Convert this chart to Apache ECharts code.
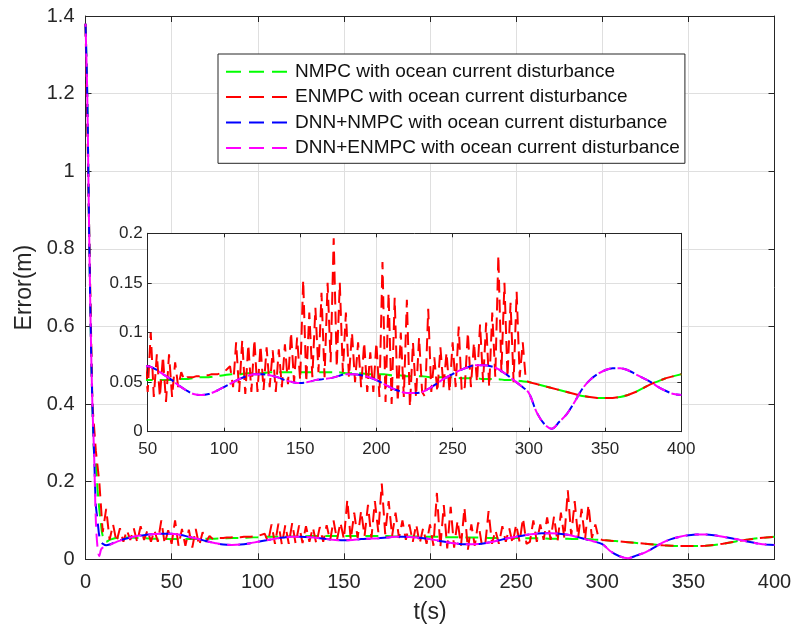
<!DOCTYPE html>
<html><head><meta charset="utf-8">
<script src="https://cdn.jsdelivr.net/npm/echarts@6.0.0/dist/echarts.min.js"></script>
<style>html,body{margin:0;padding:0;background:#fff}#c{width:795px;height:632px}</style>
</head><body><div id="c"></div>
<script>
// ---------------- data ----------------
const seriesNames = [
  'NMPC with ocean current disturbance',
  'ENMPC with ocean current disturbance',
  'DNN+NMPC with ocean current disturbance',
  'DNN+ENMPC with ocean current disturbance'
];
const seriesColors = ['#00ff00', '#ff0000', '#0000ff', '#ff00ff'];

// time base (s) for the smooth curves
const tSmooth = [0,1,2,3,4,5,6,7,8,9,10,12,14,16,18,
  20,25,30,35,40,45,50,55,60,65,70,75,80,85,90,95,
  100,105,110,115,120,125,130,135,140,145,150,155,160,165,170,175,180,185,190,195,
  200,205,210,215,220,225,230,235,240,245,250,255,260,265,270,275,280,285,290,295,
  300,305,310,315,320,325,330,335,340,345,350,355,360,365,370,375,380,385,390,395,400];

const nmpc = [1.38,1.20,0.88,0.60,0.40,0.27,0.25,0.18,0.13,0.09,0.06,0.045,0.05,0.053,0.055,
  0.056,0.056,0.055,0.054,0.053,0.053,0.052,0.052,0.052,0.052,0.053,0.053,0.054,0.055,0.055,0.056,
  0.057,0.058,0.058,0.059,0.059,0.059,0.06,0.06,0.06,0.06,0.06,0.06,0.06,0.06,0.06,0.06,0.059,0.059,0.059,0.058,
  0.058,0.058,0.057,0.057,0.056,0.056,0.056,0.055,0.055,0.055,0.055,0.054,0.054,0.054,0.053,0.053,0.053,0.052,0.052,0.051,
  0.05,0.048,0.046,0.044,0.042,0.04,0.038,0.036,0.035,0.034,0.034,0.034,0.035,0.037,0.04,0.044,0.048,0.051,0.054,0.056,0.058];

const dnnNmpc = [1.38,1.20,0.88,0.60,0.40,0.27,0.14,0.10,0.06,0.045,0.04,0.036,0.038,0.042,0.046,
  0.049,0.055,0.06,0.063,0.065,0.066,0.066,0.063,0.058,0.053,0.047,0.042,0.038,0.037,0.038,0.041,
  0.045,0.049,0.053,0.056,0.058,0.058,0.057,0.055,0.052,0.05,0.049,0.05,0.052,0.053,0.054,0.056,0.058,0.058,0.057,0.055,
  0.052,0.048,0.044,0.041,0.039,0.039,0.04,0.044,0.049,0.054,0.058,0.062,0.065,0.067,0.067,0.066,0.063,0.058,0.052,0.046,
  0.039,0.02,0.008,0.003,0.01,0.018,0.03,0.043,0.052,0.058,0.062,0.064,0.064,0.062,0.058,0.054,0.05,0.045,0.041,0.038,0.037];

const dnnEnmpc = [1.38,1.20,0.88,0.60,0.40,0.27,0.10,0.03,0.008,0.025,0.03,0.033,0.037,0.041,0.045,
  0.048,0.055,0.06,0.063,0.065,0.066,0.066,0.063,0.058,0.053,0.047,0.042,0.038,0.037,0.038,0.041,
  0.045,0.049,0.053,0.056,0.058,0.058,0.057,0.055,0.052,0.05,0.049,0.05,0.052,0.053,0.054,0.056,0.058,0.058,0.057,0.055,
  0.052,0.048,0.044,0.041,0.039,0.039,0.04,0.044,0.049,0.054,0.058,0.062,0.065,0.067,0.067,0.066,0.063,0.058,0.052,0.046,
  0.039,0.02,0.008,0.003,0.01,0.018,0.03,0.043,0.052,0.058,0.062,0.064,0.064,0.062,0.058,0.054,0.05,0.045,0.041,0.038,0.037];

// ENMPC sampled every 2 s from t = 0 to t = 300
const enmpcStep = 2;
const enmpc = [
  1.38,0.88,0.40,0.28,0.20,0.07,0.13,0.05,0.09,0.045,
  0.08,0.045,0.075,0.05,0.08,0.045,0.085,0.05,0.075,0.045,
  0.075,0.045,0.10,0.04,0.075,0.04,0.10,0.035,0.078,0.035,
  0.076,0.03,0.078,0.035,0.07,0.045,0.06,0.052,0.055,0.055,
  0.055,0.056,0.056,0.057,0.057,0.057,0.058,0.058,0.058,0.059,
  0.06,0.063,0.066,0.045,0.09,0.04,0.092,0.038,0.088,0.04,
  0.093,0.04,0.087,0.042,0.085,0.045,0.082,0.04,0.083,0.045,
  0.088,0.048,0.10,0.05,0.095,0.052,0.153,0.05,0.12,0.055,
  0.125,0.06,0.14,0.055,0.15,0.07,0.195,0.065,0.15,0.06,
  0.12,0.055,0.10,0.05,0.09,0.045,0.09,0.04,0.08,0.04,
  0.09,0.035,0.171,0.03,0.14,0.028,0.135,0.03,0.10,0.035,
  0.133,0.025,0.09,0.035,0.095,0.04,0.035,0.124,0.04,0.075,
  0.04,0.085,0.045,0.08,0.04,0.09,0.045,0.106,0.04,0.045,
  0.10,0.045,0.09,0.05,0.108,0.05,0.11,0.045,0.12,0.055,
  0.178,0.06,0.15,0.055,0.13,0.05,0.141,0.055,0.09,0.052,
  0.05];
const enmpcTailT = [305,310,315,320,325,330,335,340,345,350,355,360,365,370,375,380,385,390,395,400];
const enmpcTail = [0.048,0.046,0.044,0.042,0.04,0.038,0.036,0.035,0.034,0.034,0.034,0.035,0.037,0.04,0.044,0.048,0.051,0.054,0.056,0.058];

// axis ranges / ticks
const mainX = {min: 0, max: 400, interval: 50};
const mainY = {min: 0, max: 1.4, interval: 0.2};
const insetX = {min: 50, max: 400, interval: 50};
const insetY = {min: 0, max: 0.2, interval: 0.05};

// ---------------- build ----------------
const zip = (t, v) => t.map((x, i) => [x, v[i]]);
const enmpcPairs = enmpc.map((v, i) => [i * enmpcStep, v]).concat(zip(enmpcTailT, enmpcTail));
const seriesData = [zip(tSmooth, nmpc), enmpcPairs, zip(tSmooth, dnnNmpc), zip(tSmooth, dnnEnmpc)];
const smoothFlags = [0.35, false, 0.35, 0.35];
const dashOffsets = [0, 0, 0, 10];

const FONT = '"Liberation Sans", Arial, Helvetica, sans-serif';
const AX = '#262626';
const GRIDC = '#dfdfdf';

function axesFor(gridIndex, xr, yr, o) {
  const common = {
    gridIndex, type: 'value', zlevel: o.zlevel, z: 1,
    axisLine: {show: true, onZero: false, lineStyle: {color: AX, width: 1}},
    axisTick: {show: true, inside: true, length: o.tick, lineStyle: {color: AX, width: 1}},
    silent: true
  };
  const xs = [
    Object.assign({}, common, xr, {position: 'bottom',
      axisLabel: {show: true, color: AX, fontSize: o.font, fontFamily: FONT, margin: o.xMargin},
      splitLine: {show: true, lineStyle: {color: GRIDC, width: 1}},
      name: o.xName || '', nameLocation: 'middle', nameGap: o.xNameGap || 0,
      nameTextStyle: {color: AX, fontSize: 23, fontFamily: FONT}}),
    Object.assign({}, common, xr, {position: 'top', axisLabel: {show: false}, splitLine: {show: false}})
  ];
  const ys = [
    Object.assign({}, common, yr, {position: 'left',
      axisLabel: {show: true, color: AX, fontSize: o.font, fontFamily: FONT, margin: o.yMargin},
      splitLine: {show: true, lineStyle: {color: GRIDC, width: 1}},
      name: o.yName || '', nameLocation: 'middle', nameGap: o.yNameGap || 0,
      nameTextStyle: {color: AX, fontSize: 23, fontFamily: FONT}}),
    Object.assign({}, common, yr, {position: 'right', axisLabel: {show: false}, splitLine: {show: false}})
  ];
  return {xs, ys};
}

const mainAx = axesFor(0, mainX, mainY, {zlevel: 0, tick: 6, font: 20, xMargin: 13, yMargin: 11,
  xName: 't(s)', xNameGap: 42, yName: 'Error(m)', yNameGap: 46});
const insetAx = axesFor(1, insetX, insetY, {zlevel: 1, tick: 4, font: 17, xMargin: 9, yMargin: 5});

const series = [];
[0, 1].forEach(g => {
  seriesNames.forEach((name, i) => {
    series.push({
      name, type: 'line', xAxisIndex: g * 2, yAxisIndex: g * 2,
      data: seriesData[i], symbol: 'none', showSymbol: false,
      smooth: smoothFlags[i], clip: true, silent: true,
      zlevel: g, z: 2 + i * 0.01,
      emphasis: {disabled: true},
      lineStyle: {color: seriesColors[i], width: 2, type: [13, 7], dashOffset: dashOffsets[i]},
      itemStyle: {color: seriesColors[i]}
    });
  });
});

const option = {
  animation: false,
  backgroundColor: '#fff',
  grid: [
    {left: 85.5, top: 16, width: 689, height: 543.3, containLabel: false},
    {left: 147.7, top: 233.3, width: 533.6, height: 198.4, containLabel: false,
     show: true, backgroundColor: '#fff', borderWidth: 0, zlevel: 1, z: 0}
  ],
  xAxis: mainAx.xs.concat(insetAx.xs),
  yAxis: mainAx.ys.concat(insetAx.ys),
  legend: {
    data: seriesNames, orient: 'vertical', left: 218, top: 54,
    padding: [7.7, 5, 5.4, 7], itemGap: 5.4, itemWidth: 64, itemHeight: 14,
    backgroundColor: '#fff', borderColor: AX, borderWidth: 1,
    selectedMode: false, z: 10,
    itemStyle: {opacity: 0, borderWidth: 0},
    lineStyle: {width: 2, type: [15, 8], dashOffset: 0},
    textStyle: {fontSize: 19, lineHeight: 20, color: '#111', fontFamily: FONT}
  },
  series
};

const chart = echarts.init(document.getElementById('c'), null, {renderer: 'canvas'});
chart.setOption(option);
</script>
</body></html>
